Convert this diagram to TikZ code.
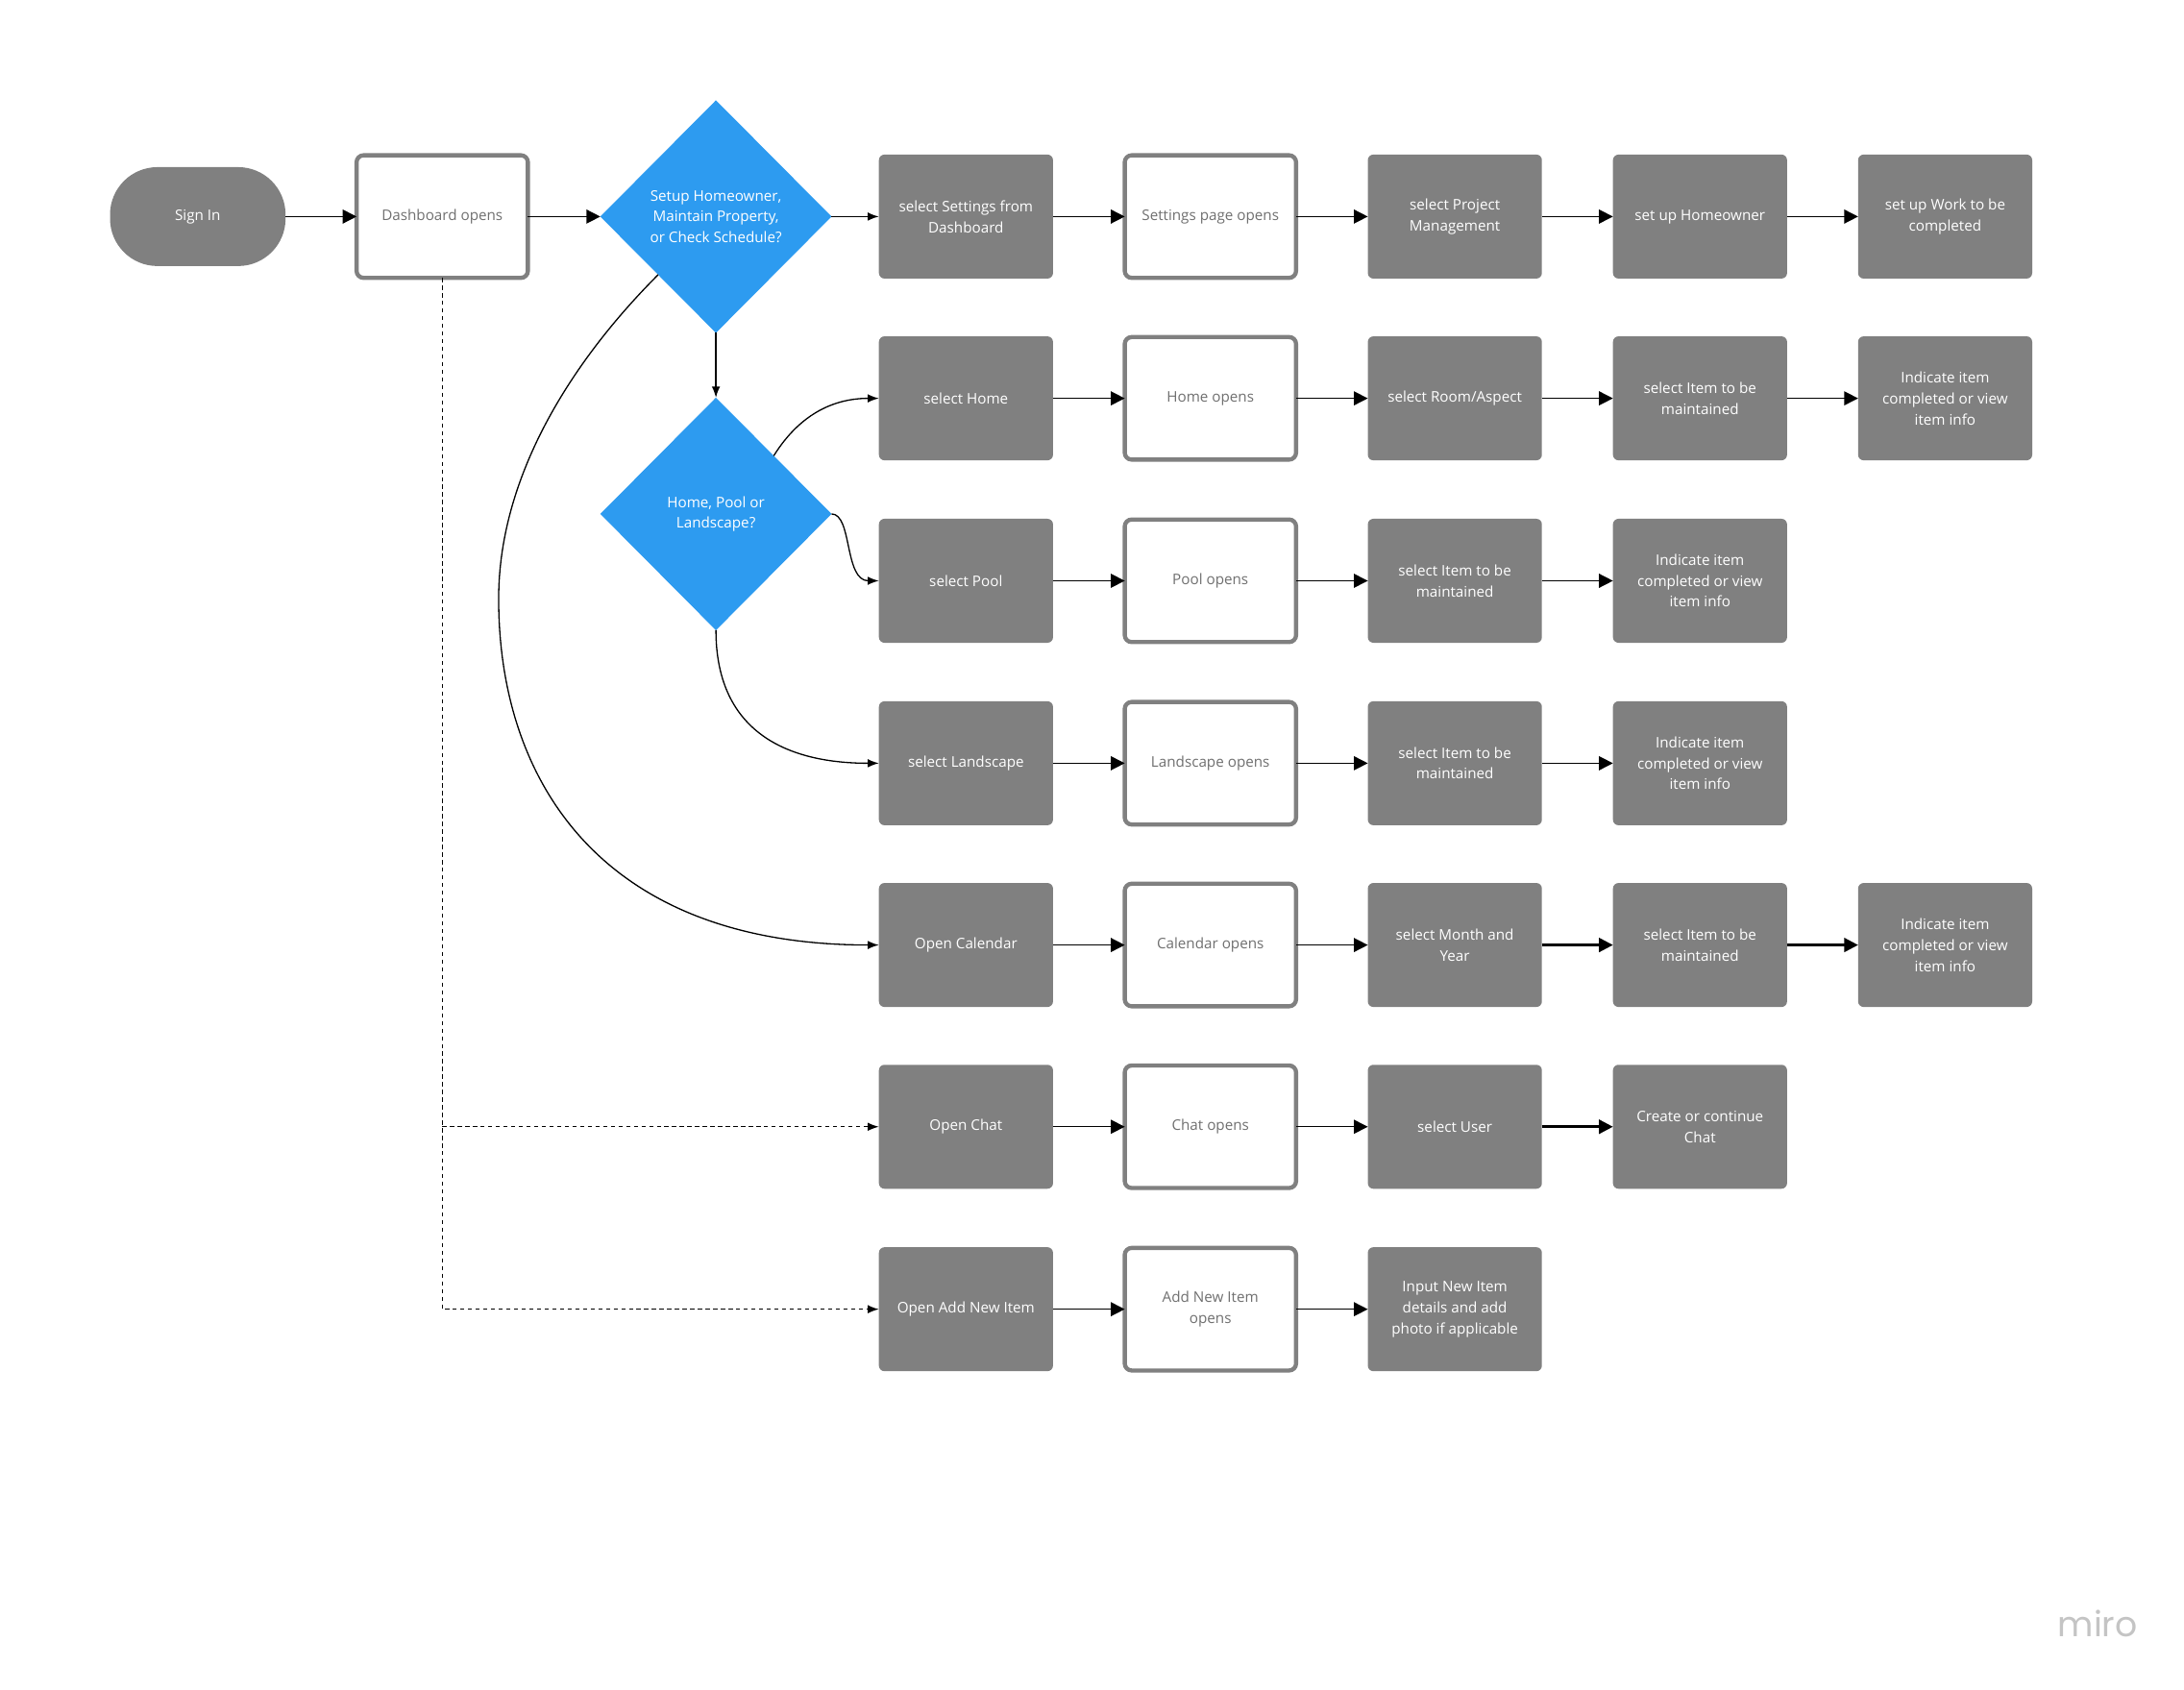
\documentclass[tikz,border=0pt]{standalone}
\usepackage{fontspec}
\setmainfont{Open Sans}
\newfontfamily\logofont{Poppins}
\usetikzlibrary{arrows.meta,shapes.geometric,calc}
\definecolor{boxgray}{HTML}{808080}
\definecolor{opentext}{HTML}{707070}
\definecolor{dblue}{HTML}{2D9BF0}
\definecolor{logogray}{HTML}{C4C4C4}
\tikzset{
  lbl/.style={font=\fontsize{10.5}{15}\selectfont, align=center, inner sep=0pt, outer sep=0pt},
  graybox/.style={lbl, rectangle, rounded corners=4pt, fill=boxgray, text=white, minimum width=125pt, minimum height=89pt},
  openbox/.style={lbl, rectangle, rounded corners=5pt, draw=boxgray, line width=3pt, fill=white, text=opentext, minimum width=123pt, minimum height=88pt},
  term/.style={lbl, rectangle, rounded corners=34pt, fill=boxgray, text=white, minimum width=126pt, minimum height=71pt},
  decision/.style={lbl, diamond, fill=dblue, text=white, minimum width=166pt, minimum height=167pt},
  bigarrow/.style={line width=1pt, -{Triangle[length=10pt,width=10pt]}},
  thickarrow/.style={line width=1.8pt, -{Triangle[length=10pt,width=10pt]}},
  smallarrow/.style={line width=0.9pt, -{Latex[length=8pt,width=6pt]}},
  dashline/.style={line width=0.9pt, dash pattern=on 3pt off 2.5pt, -{Latex[length=8pt,width=6pt]}}
}
\begin{document}
\begin{tikzpicture}[x=1pt,y=-1pt]
\useasboundingbox (0,0) rectangle (1568,1213);
\fill[white] (0,0) rectangle (1568,1213);

% start
\node[term] (signin) at (142,155.5) {Sign In};
\node[openbox] (dash) at (317.5,155.5) {Dashboard opens};
\node[decision] (d1) at (514,155.5) {Setup Homeowner,\\Maintain Property,\\or Check Schedule?};
\node[decision] (d2) at (514,369) {Home, Pool or\\Landscape?};

% row 1
\node[graybox] (s11) at (693.5,155.5) {select Settings from\\Dashboard};
\node[openbox] (s12) at (869,155.5) {Settings page opens};
\node[graybox] (s13) at (1044.5,155.5) {select Project\\Management};
\node[graybox] (s14) at (1220.5,155.5) {set up Homeowner};
\node[graybox] (s15) at (1396.5,155.5) {set up Work to be\\completed};

% row 2
\node[graybox] (s21) at (693.5,286) {select Home};
\node[openbox] (s22) at (869,286) {Home opens};
\node[graybox] (s23) at (1044.5,286) {select Room/Aspect};
\node[graybox] (s24) at (1220.5,286) {select Item to be\\maintained};
\node[graybox] (s25) at (1396.5,286) {Indicate item\\completed or view\\item info};

% row 3
\node[graybox] (s31) at (693.5,417) {select Pool};
\node[openbox] (s32) at (869,417) {Pool opens};
\node[graybox] (s33) at (1044.5,417) {select Item to be\\maintained};
\node[graybox] (s34) at (1220.5,417) {Indicate item\\completed or view\\item info};

% row 4
\node[graybox] (s41) at (693.5,548) {select Landscape};
\node[openbox] (s42) at (869,548) {Landscape opens};
\node[graybox] (s43) at (1044.5,548) {select Item to be\\maintained};
\node[graybox] (s44) at (1220.5,548) {Indicate item\\completed or view\\item info};

% row 5
\node[graybox] (s51) at (693.5,678.5) {Open Calendar};
\node[openbox] (s52) at (869,678.5) {Calendar opens};
\node[graybox] (s53) at (1044.5,678.5) {select Month and\\Year};
\node[graybox] (s54) at (1220.5,678.5) {select Item to be\\maintained};
\node[graybox] (s55) at (1396.5,678.5) {Indicate item\\completed or view\\item info};

% row 6
\node[graybox] (s61) at (693.5,809) {Open Chat};
\node[openbox] (s62) at (869,809) {Chat opens};
\node[graybox] (s63) at (1044.5,809) {select User};
\node[graybox] (s64) at (1220.5,809) {Create or continue\\Chat};

% row 7
\node[graybox] (s71) at (693.5,940) {Open Add New Item};
\node[openbox] (s72) at (869,940) {Add New Item\\opens};
\node[graybox] (s73) at (1044.5,940) {Input New Item\\details and add\\photo if applicable};

% logo
\node[text=logogray, font=\logofont\fontsize{25}{25}\selectfont, inner sep=0pt] (logo) at (1506,1166) {miro};

% main connectors
\draw[bigarrow] (signin) -- (dash);
\draw[bigarrow] (dash) -- (d1);
\draw[smallarrow] (d1) -- (s11);
\draw[smallarrow] (d1) -- (d2);
\draw[smallarrow] ($(d2.north)!0.5!(d2.east)$) .. controls +(20,-32) and +(-30,0) .. (s21.west);
\draw[smallarrow] (d2.east) .. controls +(15,0) and +(-25,0) .. (s31.west);
\draw[smallarrow] (d2.south) .. controls +(0,70) and +(-70,0) .. (s41.west);
\coordinate (calmid) at (358,430);
\draw[smallarrow] ($(d1.south)!0.5!(d1.west)$) .. controls +(-60,60) and +(0,-90) .. (calmid) .. controls +(0,130) and +(-200,0) .. (s51.west);

% dashed branches
\draw[dashline] (dash.south) |- (s71.west);
\draw[dashline] (dash.south |- s61.west) -- (s61.west);

% row arrows
\draw[bigarrow] (s11) -- (s12);
\draw[bigarrow] (s12) -- (s13);
\draw[bigarrow] (s13) -- (s14);
\draw[bigarrow] (s14) -- (s15);

\draw[bigarrow] (s21) -- (s22);
\draw[bigarrow] (s22) -- (s23);
\draw[bigarrow] (s23) -- (s24);
\draw[bigarrow] (s24) -- (s25);

\draw[bigarrow] (s31) -- (s32);
\draw[bigarrow] (s32) -- (s33);
\draw[bigarrow] (s33) -- (s34);

\draw[bigarrow] (s41) -- (s42);
\draw[bigarrow] (s42) -- (s43);
\draw[bigarrow] (s43) -- (s44);

\draw[bigarrow] (s51) -- (s52);
\draw[bigarrow] (s52) -- (s53);
\draw[thickarrow] (s53) -- (s54);
\draw[thickarrow] (s54) -- (s55);

\draw[bigarrow] (s61) -- (s62);
\draw[bigarrow] (s62) -- (s63);
\draw[thickarrow] (s63) -- (s64);

\draw[bigarrow] (s71) -- (s72);
\draw[bigarrow] (s72) -- (s73);
\end{tikzpicture}
\end{document}
